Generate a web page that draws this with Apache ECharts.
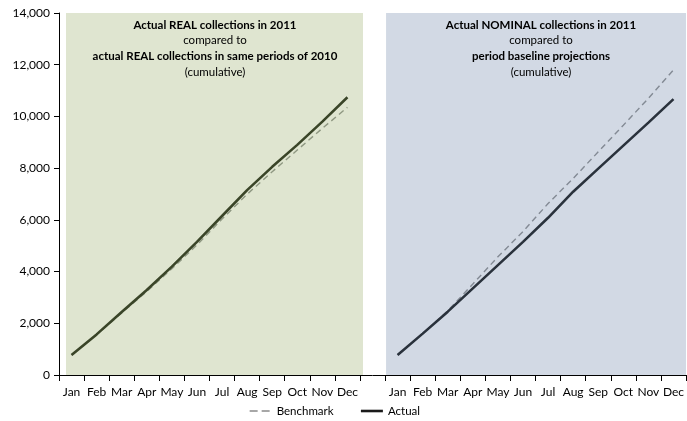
<!DOCTYPE html>
<html>
<head>
<meta charset="utf-8">
<script src="https://cdn.jsdelivr.net/npm/echarts@6/dist/echarts.min.js"></script>
<style>
  html, body { margin: 0; padding: 0; background: #fff; }
  #chart { width: 687px; height: 421px; }
</style>
</head>
<body>
<div id="chart"></div>
<script>
// 月份
const months = ['Jan', 'Feb', 'Mar', 'Apr', 'May', 'Jun', 'Jul', 'Aug', 'Sep', 'Oct', 'Nov', 'Dec']
// y 轴
const yMin = 0
const yMax = 14000
const yStep = 2000

// 左图: REAL (2011 vs 2010)
const realActual = [770, 1570, 2440, 3290, 4190, 5150, 6150, 7150, 8050, 8900, 9800, 10740]
const realBenchmark = [770, 1560, 2400, 3230, 4110, 5030, 6030, 6990, 7860, 8700, 9540, 10350]
// 右图: NOMINAL (2011 vs 基线预测)
const nominalActual = [770, 1600, 2450, 3350, 4250, 5150, 6080, 7090, 7980, 8870, 9760, 10670]
const nominalBenchmark = [770, 1600, 2480, 3520, 4570, 5550, 6630, 7600, 8630, 9660, 10700, 11800]

// 两个面板共用一条类目轴，中间空一格
const categories = [...months, '', ...months]
const pad = n => new Array(n).fill(null)
const leftOf = arr => [...arr, ...pad(13)]
const rightOf = arr => [...pad(13), ...arr]

const font = 'Lato, "Liberation Sans", sans-serif'

const chart = echarts.init(document.getElementById('chart'))

const titleRich = {
  b: { fontFamily: font, fontSize: 11.5, fontWeight: 'bold', color: '#000', lineHeight: 15.7, align: 'center' },
  n: { fontFamily: font, fontSize: 11.5, color: '#000', lineHeight: 15.7, align: 'center' }
}

chart.setOption({
  animation: false,
  grid: { left: 59, right: -1, top: 13, bottom: 46, containLabel: false },
  legend: {
    left: 249,
    top: 405,
    padding: 0,
    itemWidth: 22,
    itemHeight: 10,
    itemGap: 26,
    textStyle: { fontFamily: font, fontSize: 11.5, color: '#000' },
    data: [
      { name: 'Benchmark', itemStyle: { opacity: 0 }, lineStyle: { color: '#8a8a8a', width: 1.3, type: [8, 4] } },
      { name: 'Actual', itemStyle: { opacity: 0 }, lineStyle: { color: '#1a1a1a', width: 2.6, type: 'solid' } }
    ]
  },
  xAxis: [
    {
      type: 'category',
      data: categories,
      boundaryGap: true,
      axisLine: { lineStyle: { color: '#000', width: 1 } },
      axisTick: { show: true, length: 6, alignWithLabel: false, lineStyle: { color: '#000' } },
      axisLabel: { interval: 0, hideOverlap: false, margin: 11, fontFamily: font, fontSize: 12, color: '#000' }
    },
    { type: 'value', min: 0, max: 25, show: false }
  ],
  yAxis: {
    type: 'value',
    min: yMin,
    max: yMax,
    interval: yStep,
    splitLine: { show: false },
    axisLine: { show: true, lineStyle: { color: '#000', width: 1 } },
    axisTick: { show: true, length: 5, lineStyle: { color: '#000' } },
    axisLabel: {
      margin: 9,
      fontFamily: font,
      fontSize: 12,
      color: '#000',
      formatter: v => v.toLocaleString('en-US')
    }
  },
  graphic: [
    {
      type: 'text', x: 215, y: 17, z: 100, silent: true,
      style: {
        text: '{b|Actual REAL collections in 2011}\n{n|compared to}\n{b|actual REAL collections in same periods of 2010}\n{n|(cumulative)}',
        rich: titleRich, textAlign: 'center', fill: '#000'
      }
    },
    {
      type: 'text', x: 541, y: 17, z: 100, silent: true,
      style: {
        text: '{b|Actual NOMINAL collections in 2011}\n{n|compared to}\n{b|period baseline projections}\n{n|(cumulative)}',
        rich: titleRich, textAlign: 'center', fill: '#000'
      }
    }
  ],
  series: [
    {
      // 面板背景
      type: 'line',
      xAxisIndex: 1,
      data: [],
      silent: true,
      z: 1,
      markArea: {
        silent: true,
        data: [
          [{ xAxis: 0.28, yAxis: yMin, itemStyle: { color: '#dfe5d0' } }, { xAxis: 12.12, yAxis: yMax }],
          [{ xAxis: 13.04, yAxis: yMin, itemStyle: { color: '#d2d9e4' } }, { xAxis: 25, yAxis: yMax }]
        ]
      }
    },
    {
      name: 'Benchmark', type: 'line', data: leftOf(realBenchmark),
      symbol: 'none', connectNulls: false, z: 3,
      lineStyle: { color: '#8f9882', width: 1.4, type: [6, 4] }
    },
    {
      name: 'Actual', type: 'line', data: leftOf(realActual),
      symbol: 'none', connectNulls: false, z: 4,
      lineStyle: { color: '#3a4528', width: 2.6 }
    },
    {
      name: 'Benchmark', type: 'line', data: rightOf(nominalBenchmark),
      symbol: 'none', connectNulls: false, z: 3,
      lineStyle: { color: '#838a94', width: 1.4, type: [6, 4] }
    },
    {
      name: 'Actual', type: 'line', data: rightOf(nominalActual),
      symbol: 'none', connectNulls: false, z: 4,
      lineStyle: { color: '#2a323c', width: 2.6 }
    }
  ]
})
</script>
</body>
</html>
